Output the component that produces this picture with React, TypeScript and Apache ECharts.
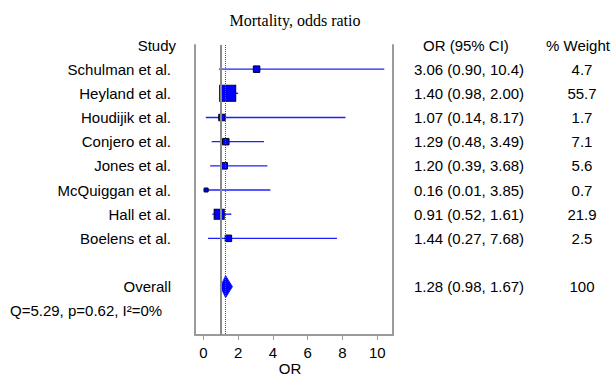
import React, { useEffect, useRef } from "react";
import * as echarts from "echarts";

const studies = [
  "Schulman et al.",
  "Heyland et al.",
  "Houdijik et al.",
  "Conjero et al.",
  "Jones et al.",
  "McQuiggan et al.",
  "Hall et al.",
  "Boelens et al.",
];
const oddsRatios = [3.06, 1.4, 1.07, 1.29, 1.2, 0.16, 0.91, 1.44];
const ciLower = [0.9, 0.98, 0.14, 0.48, 0.39, 0.01, 0.52, 0.27];
const ciUpper = [10.4, 2.0, 8.17, 3.49, 3.68, 3.85, 1.61, 7.68];
const weights = [4.7, 55.7, 1.7, 7.1, 5.6, 0.7, 21.9, 2.5];

const overallLabel = "Overall";
const overallOR = 1.28;
const overallLower = 0.98;
const overallUpper = 1.67;
const overallWeight = "100";
const heterogeneity = "Q=5.29, p=0.62, I\u00b2=0%";

const nullValue = 1;
const xTicks = [0, 2, 4, 6, 8, 10];
const title = "Mortality, odds ratio";
const xName = "OR";
const headers = ["Study", "OR (95% CI)", "% Weight"];

const SANS = "'Liberation Sans', Arial, sans-serif";
const SERIF = "'Liberation Serif', 'Times New Roman', serif";
const FS = 15;

const fmt = (v: number) => (v >= 10 ? v.toFixed(1) : v.toFixed(2));
const ciText = (o: number, l: number, h: number) => `${fmt(o)} (${fmt(l)}, ${fmt(h)})`;
const sizeFor = (w: number) => (w < 1 ? 4 : Math.max(6.5, 2.15 * Math.sqrt(w)));

type Row = { row: number; a: string; b: string; c: string; aAlign: string; head?: boolean };

const rows: Row[] = [
  { row: -1, a: headers[0], b: headers[1], c: headers[2], aAlign: "right", head: true },
  ...studies.map((s, i) => ({
    row: i,
    a: s,
    b: ciText(oddsRatios[i], ciLower[i], ciUpper[i]),
    c: weights[i].toFixed(1),
    aAlign: "right",
  })),
  {
    row: studies.length + 1,
    a: overallLabel,
    b: ciText(overallOR, overallLower, overallUpper),
    c: overallWeight,
    aAlign: "right",
  },
  { row: studies.length + 2, a: heterogeneity, b: "", c: "", aAlign: "left" },
];

const BOX = "#9a9a9a";

export default function App() {
  const ref = useRef<HTMLDivElement>(null);
  useEffect(() => {
    document.body.style.margin = "0";
    const chart = echarts.init(ref.current!, null, { renderer: "svg" });
    const overallRow = studies.length + 1;
    const yAxisBase = {
      type: "value",
      inverse: true,
      min: -1,
      max: 11,
      axisLine: { show: true, onZero: false, lineStyle: { color: BOX, width: 2 } },
      axisTick: { show: false },
      axisLabel: { show: false },
      splitLine: { show: false },
    };
    const option: any = {
      animation: false,
      backgroundColor: "#ffffff",
      tooltip: { show: false },
      graphic: [
        {
          type: "text",
          x: 295,
          y: 20,
          style: {
            text: title,
            fill: "#000",
            font: `16px ${SERIF}`,
            textAlign: "center",
            verticalAlign: "middle",
          },
        },
      ],
      grid: {
        left: 195,
        right: 220,
        top: 45,
        bottom: 41,
        containLabel: false,
        outerBoundsMode: "none",
      },
      xAxis: {
        type: "value",
        min: -0.48,
        max: 10.9,
        name: xName,
        nameLocation: "middle",
        nameGap: 26,
        nameMoveOverlap: false,
        nameTextStyle: { color: "#000", fontSize: FS, fontFamily: SANS, padding: [0, 8, 0, 0] },
        axisLine: { show: true, onZero: false, lineStyle: { color: BOX, width: 2 } },
        axisTick: {
          show: true,
          customValues: xTicks,
          length: 5,
          lineStyle: { color: BOX, width: 1 },
        },
        axisLabel: {
          customValues: xTicks,
          color: "#000",
          fontSize: FS,
          fontFamily: SANS,
          margin: 10,
        },
        splitLine: { show: false },
        axisPointer: { show: false },
      },
      yAxis: [
        { ...yAxisBase, position: "left" },
        { ...yAxisBase, position: "right" },
      ],
      series: [
        {
          type: "scatter",
          data: [],
          z: 1,
          markLine: {
            silent: true,
            symbol: "none",
            label: { show: false },
            data: [
              { xAxis: nullValue, lineStyle: { color: "#8a8a8a", width: 2, type: "solid" } },
              { xAxis: overallOR, lineStyle: { color: "#555555", width: 1, type: [1, 1] } },
            ],
          },
        },
        {
          type: "custom",
          z: 2,
          clip: false,
          silent: true,
          encode: { x: [0, 1], y: 2 },
          data: studies.map((_, i) => [ciLower[i], ciUpper[i], i]),
          renderItem: (params: any, api: any) => {
            const y = api.value(2);
            const lo = api.coord([api.value(0), y]);
            const hi = api.coord([api.value(1), y]);
            return {
              type: "rect",
              shape: { x: lo[0], y: lo[1] - 0.7, width: hi[0] - lo[0], height: 1.4 },
              style: { fill: "#1f1fff", stroke: null, lineWidth: 0 },
            };
          },
        },
        {
          type: "scatter",
          z: 3,
          silent: true,
          symbol: "rect",
          data: studies.map((_, i) => [oddsRatios[i], i, weights[i]]),
          symbolSize: (v: number[]) => sizeFor(v[2]),
          itemStyle: { color: "#0000ff", borderColor: "#000022", borderWidth: 1, opacity: 1 },
        },
        {
          type: "custom",
          z: 3,
          clip: false,
          silent: true,
          encode: { x: [0, 1, 2], y: 3 },
          data: [[overallLower, overallUpper, overallOR, overallRow]],
          renderItem: (params: any, api: any) => {
            const y = api.value(3);
            const lo = api.coord([api.value(0), y]);
            const hi = api.coord([api.value(1), y]);
            const c = api.coord([api.value(2), y]);
            const h = 11;
            return {
              type: "polygon",
              shape: {
                points: [
                  [lo[0], lo[1]],
                  [c[0], c[1] - h],
                  [hi[0], hi[1]],
                  [c[0], c[1] + h],
                ],
              },
              style: { fill: "#0000ff", stroke: "#1a1aff", lineWidth: 1 },
            };
          },
        },
        {
          type: "custom",
          z: 4,
          clip: false,
          silent: true,
          encode: { x: 0, y: 1 },
          data: rows.map((r) => [0, r.row]),
          renderItem: (params: any, api: any) => {
            const r = rows[params.dataIndex];
            const y = api.coord([0, r.row])[1];
            const font = `${FS}px ${SANS}`;
            const children: any[] = [];
            children.push({
              type: "text",
              x: r.aAlign === "left" ? 10 : r.head ? 176 : 171,
              y,
              style: { text: r.a, fill: "#000", font, textAlign: r.aAlign, verticalAlign: "middle" },
            });
            if (r.b)
              children.push({
                type: "text",
                x: r.head ? 423 : 414,
                y,
                style: { text: r.b, fill: "#000", font, textAlign: "left", verticalAlign: "middle" },
              });
            if (r.c)
              children.push({
                type: "text",
                x: r.head ? 578 : 582,
                y,
                style: { text: r.c, fill: "#000", font, textAlign: "center", verticalAlign: "middle" },
              });
            return { type: "group", children };
          },
        },
      ],
    };
    chart.setOption(option);
    return () => chart.dispose();
  }, []);
  return (
    <div
      ref={ref}
      style={{ position: "fixed", left: 0, top: 0, width: 613, height: 376, background: "#fff" }}
    />
  );
}
